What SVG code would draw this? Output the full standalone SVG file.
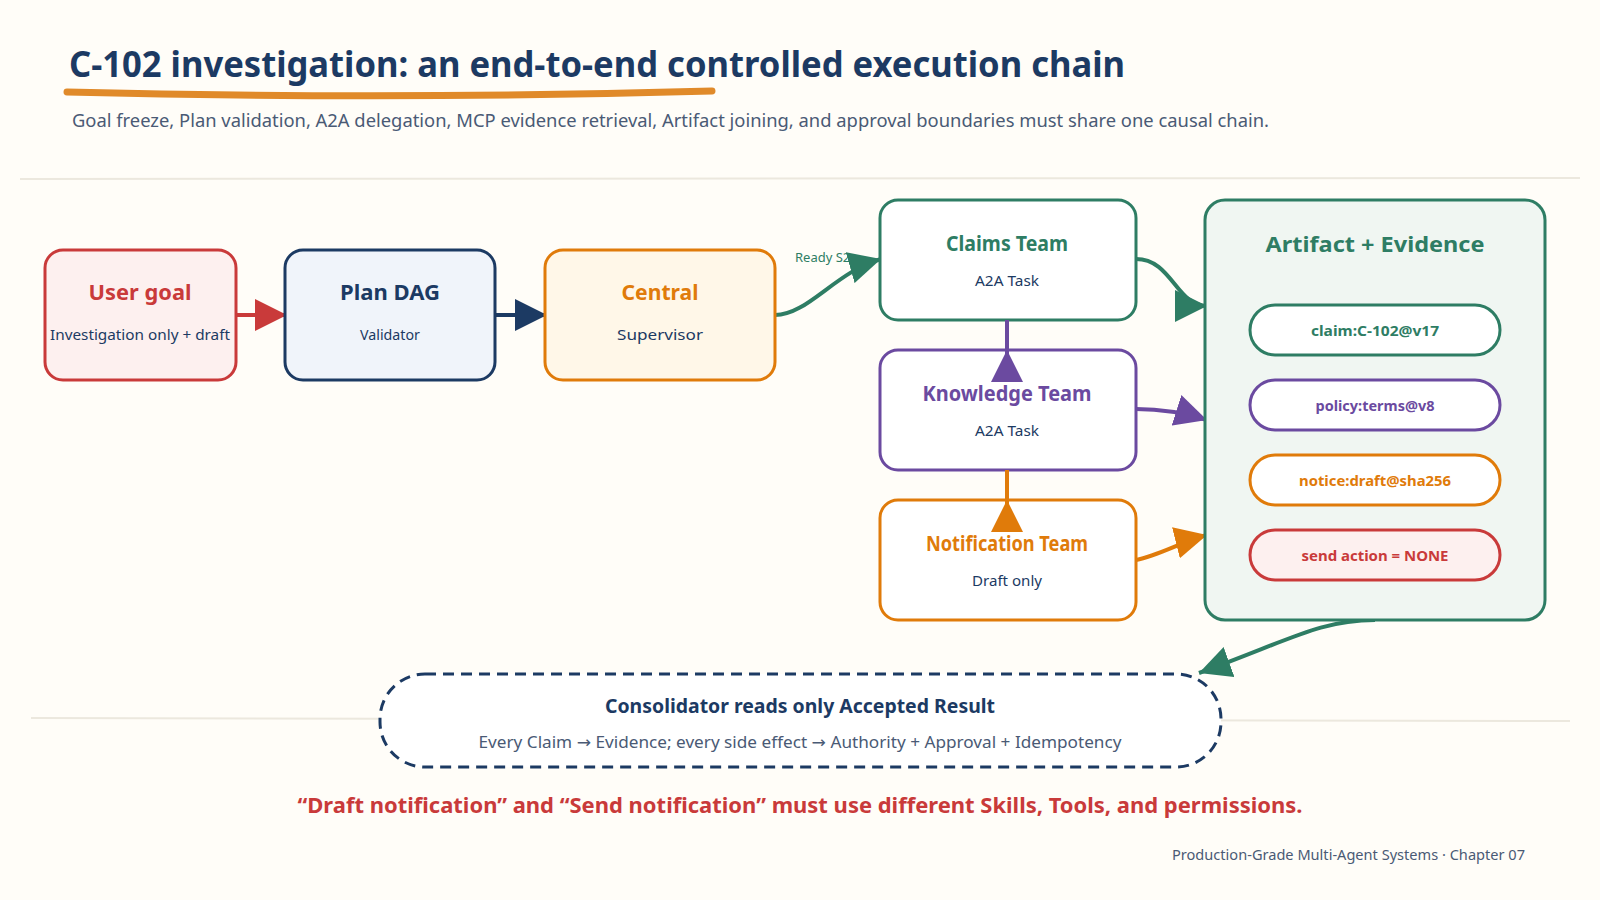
<svg xmlns="http://www.w3.org/2000/svg" width="1600" height="900" viewBox="0 0 1600 900">
<defs>
<style>
text{font-family:"Noto Sans","Liberation Sans",sans-serif;}
.t{font-weight:700;font-size:22px;text-anchor:middle;}
.s{font-size:15px;text-anchor:middle;fill:#1c3a63;}
.p{font-weight:700;font-size:15px;text-anchor:middle;}
.node{stroke-width:3;}
.conn{fill:none;stroke-width:4;}
.arr{font-family:"DejaVu Sans",sans-serif;}
</style>
<marker id="aR" markerUnits="userSpaceOnUse" markerWidth="32" markerHeight="32" viewBox="0 0 30 30" refX="30" refY="15" orient="auto"><path d="M0,0 L30,15 L0,30 z" fill="#c93a3a"/></marker>
<marker id="aN" markerUnits="userSpaceOnUse" markerWidth="32" markerHeight="32" viewBox="0 0 30 30" refX="30" refY="15" orient="auto"><path d="M0,0 L30,15 L0,30 z" fill="#1c3a63"/></marker>
<marker id="aG" markerUnits="userSpaceOnUse" markerWidth="32" markerHeight="32" viewBox="0 0 30 30" refX="30" refY="15" orient="auto"><path d="M0,0 L30,15 L0,30 z" fill="#2e7d64"/></marker>
<marker id="aP" markerUnits="userSpaceOnUse" markerWidth="32" markerHeight="32" viewBox="0 0 30 30" refX="30" refY="15" orient="auto"><path d="M0,0 L30,15 L0,30 z" fill="#6b4aa0"/></marker>
<marker id="aO" markerUnits="userSpaceOnUse" markerWidth="32" markerHeight="32" viewBox="0 0 30 30" refX="30" refY="15" orient="auto"><path d="M0,0 L30,15 L0,30 z" fill="#e07b0a"/></marker>
</defs>
<rect width="1600" height="900" fill="#fffdf8"/>

<g id="header">
<text x="69" y="77" font-size="36" font-weight="700" fill="#1c3a63" textLength="1056" lengthAdjust="spacingAndGlyphs">C-102 investigation: an end-to-end controlled execution chain</text>
<path d="M67,92 Q390,100 712,91" fill="none" stroke="#e08a2a" stroke-width="7" stroke-linecap="round"/>
<text x="72" y="127" font-size="18" fill="#4a5a75" textLength="1197" lengthAdjust="spacingAndGlyphs">Goal freeze, Plan validation, A2A delegation, MCP evidence retrieval, Artifact joining, and approval boundaries must share one causal chain.</text>
<path d="M20,179 L1580,178" stroke="#ece8de" stroke-width="2" fill="none"/>
<path d="M31,718 L1570,721" stroke="#ece8de" stroke-width="2" fill="none"/>
</g>

<g id="connectors">
<path class="conn" d="M236,315 L287,315" stroke="#c93a3a" marker-end="url(#aR)"/>
<path class="conn" d="M495,315 L547,315" stroke="#1c3a63" marker-end="url(#aN)"/>
<path class="conn" d="M775,315 C808,315 835,272 881,259" stroke="#2e7d64" marker-end="url(#aG)"/>
<path class="conn" d="M1136,259 C1172,259 1176,306 1207,306" stroke="#2e7d64" marker-end="url(#aG)"/>
<path class="conn" d="M1136,409 C1165,409 1185,413 1207,420" stroke="#6b4aa0" marker-end="url(#aP)"/>
<path class="conn" d="M1136,560 C1160,555 1183,541 1207,535" stroke="#e07b0a" marker-end="url(#aO)"/>
<path class="conn" d="M1375,620 C1320,620 1290,640 1199,673" stroke="#2e7d64" marker-end="url(#aG)"/>
</g>

<g id="label-ready"><text x="795" y="262" font-size="13" fill="#2e7d64">Ready S2</text></g>

<g id="user-goal">
<rect class="node" x="45" y="250" width="191" height="130" rx="18" fill="#fdf0ef" stroke="#c93a3a"/>
<text class="t" x="140" y="300" fill="#c93a3a" textLength="103" lengthAdjust="spacingAndGlyphs">User goal</text>
<text class="s" x="140" y="340" textLength="180" lengthAdjust="spacingAndGlyphs">Investigation only + draft</text>
</g>
<g id="plan-dag">
<rect class="node" x="285" y="250" width="210" height="130" rx="18" fill="#f0f4fa" stroke="#1c3a63"/>
<text class="t" x="390" y="300" fill="#1c3a63" textLength="100" lengthAdjust="spacingAndGlyphs">Plan DAG</text>
<text class="s" x="390" y="340" textLength="60" lengthAdjust="spacingAndGlyphs">Validator</text>
</g>
<g id="central">
<rect class="node" x="545" y="250" width="230" height="130" rx="18" fill="#fff7e8" stroke="#e07b0a"/>
<text class="t" x="660" y="300" fill="#e07b0a" textLength="77" lengthAdjust="spacingAndGlyphs">Central</text>
<text class="s" x="660" y="340" textLength="86" lengthAdjust="spacingAndGlyphs">Supervisor</text>
</g>
<g id="claims-team">
<rect class="node" x="880" y="200" width="256" height="120" rx="18" fill="#ffffff" stroke="#2e7d64"/>
<text class="t" x="1007" y="251" fill="#2e7d64" textLength="122" lengthAdjust="spacingAndGlyphs">Claims Team</text>
<text class="s" x="1007" y="286" textLength="64" lengthAdjust="spacingAndGlyphs">A2A Task</text>
</g>
<g id="knowledge-team">
<rect class="node" x="880" y="350" width="256" height="120" rx="18" fill="#ffffff" stroke="#6b4aa0"/>
<text class="t" x="1007" y="401" fill="#6b4aa0" textLength="169" lengthAdjust="spacingAndGlyphs">Knowledge Team</text>
<text class="s" x="1007" y="436" textLength="64" lengthAdjust="spacingAndGlyphs">A2A Task</text>
</g>
<g id="notification-team">
<rect class="node" x="880" y="500" width="256" height="120" rx="18" fill="#ffffff" stroke="#e07b0a"/>
<text class="t" x="1007" y="551" fill="#e07b0a" textLength="162" lengthAdjust="spacingAndGlyphs">Notification Team</text>
<text class="s" x="1007" y="586" textLength="70" lengthAdjust="spacingAndGlyphs">Draft only</text>
</g>

<g id="vertical-connectors">
<path class="conn" d="M1007,320 L1007,376 L1007,350" stroke="#6b4aa0" marker-end="url(#aP)"/>
<path class="conn" d="M1007,470 L1007,526 L1007,500" stroke="#e07b0a" marker-end="url(#aO)"/>
</g>

<g id="artifact-evidence">
<rect class="node" x="1205" y="200" width="340" height="420" rx="20" fill="#f0f6f2" stroke="#2e7d64"/>
<text class="t" x="1375" y="252" fill="#2e7d64" textLength="219" lengthAdjust="spacingAndGlyphs">Artifact + Evidence</text>
<g id="pill-claim"><rect x="1250" y="305" width="250" height="50" rx="25" fill="#ffffff" stroke="#2e7d64" stroke-width="3"/><text class="p" x="1375" y="336" fill="#2e7d64" textLength="128" lengthAdjust="spacingAndGlyphs">claim:C-102@v17</text></g>
<g id="pill-policy"><rect x="1250" y="380" width="250" height="50" rx="25" fill="#ffffff" stroke="#6b4aa0" stroke-width="3"/><text class="p" x="1375" y="411" fill="#6b4aa0" textLength="119" lengthAdjust="spacingAndGlyphs">policy:terms@v8</text></g>
<g id="pill-notice"><rect x="1250" y="455" width="250" height="50" rx="25" fill="#ffffff" stroke="#e07b0a" stroke-width="3"/><text class="p" x="1375" y="486" fill="#e07b0a" textLength="152" lengthAdjust="spacingAndGlyphs">notice:draft@sha256</text></g>
<g id="pill-send"><rect x="1250" y="530" width="250" height="50" rx="25" fill="#fdf0ef" stroke="#c93a3a" stroke-width="3"/><text class="p" x="1375" y="561" fill="#c93a3a" textLength="147" lengthAdjust="spacingAndGlyphs">send action = NONE</text></g>
</g>

<g id="consolidator">
<rect x="380" y="674" width="841" height="93" rx="45" fill="#ffffff" stroke="#1c3a63" stroke-width="3" stroke-dasharray="11 7"/>
<text x="800" y="713" font-size="20" font-weight="700" text-anchor="middle" fill="#1c3a63" textLength="390" lengthAdjust="spacingAndGlyphs">Consolidator reads only Accepted Result</text>
<text x="800" y="748" font-size="16" text-anchor="middle" fill="#4a5a75" textLength="643" lengthAdjust="spacingAndGlyphs">Every Claim <tspan class="arr">→</tspan> Evidence; every side effect <tspan class="arr">→</tspan> Authority + Approval + Idempotency</text>
</g>

<g id="footer">
<text x="800" y="813" font-size="22" font-weight="700" text-anchor="middle" fill="#c93a3a" textLength="1005" lengthAdjust="spacingAndGlyphs">“Draft notification” and “Send notification” must use different Skills, Tools, and permissions.</text>
<text x="1525" y="860" font-size="14" text-anchor="end" fill="#4a5a75" textLength="353" lengthAdjust="spacingAndGlyphs">Production-Grade Multi-Agent Systems · Chapter 07</text>
</g>
</svg>
